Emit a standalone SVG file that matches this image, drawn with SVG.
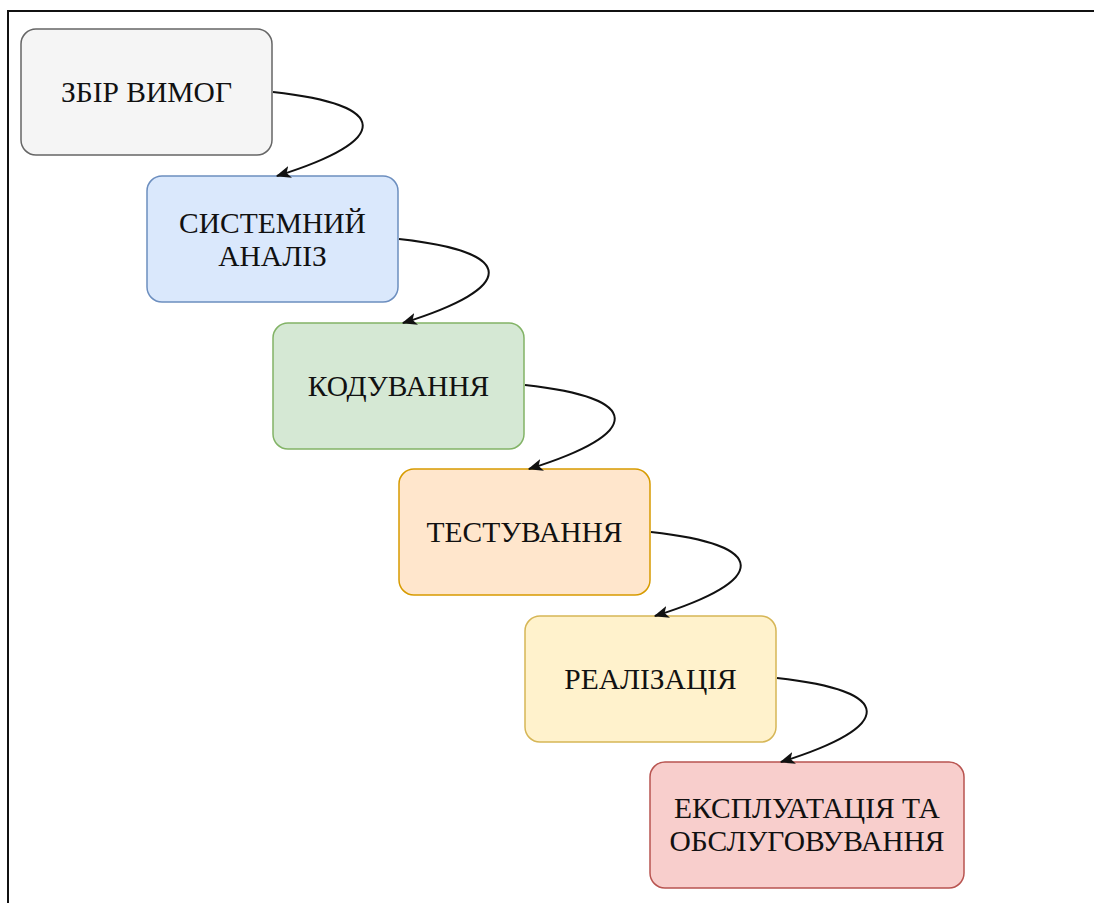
<svg xmlns="http://www.w3.org/2000/svg" width="1094" height="903" viewBox="0 0 1094 903">
<style>
.n rect{stroke-width:1.5}
.n text{font-family:"Liberation Serif","Times New Roman",serif;font-size:29.5px;fill:#111;text-anchor:middle}
.e path{fill:none;stroke:#111;stroke-width:2}
</style>
<defs>
<marker id="a" viewBox="0 0 12 12" refX="11" refY="6" markerWidth="15" markerHeight="15" markerUnits="userSpaceOnUse" orient="auto">
<path d="M0,1 L12,6 L0,11 L3,6 z" fill="#111"/>
</marker>
</defs>
<rect x="0" y="0" width="1094" height="903" fill="#fff"/>
<path d="M8,903 V11 H1094" fill="none" stroke="#111" stroke-width="2"/>
<g id="n1" class="n"><rect x="21" y="29" width="251" height="126" rx="15" fill="#f5f5f5" stroke="#666"/><text x="146.5" y="102">ЗБІР ВИМОГ</text></g>
<g id="n2" class="n"><rect x="147" y="176" width="251" height="126" rx="15" fill="#dae8fc" stroke="#6c8ebf"/><text x="272.5" y="233">СИСТЕМНИЙ</text><text x="272.5" y="266">АНАЛІЗ</text></g>
<g id="n3" class="n"><rect x="273" y="323" width="251" height="126" rx="15" fill="#d5e8d4" stroke="#82b366"/><text x="398.5" y="396">КОДУВАННЯ</text></g>
<g id="n4" class="n"><rect x="399" y="469" width="251" height="126" rx="15" fill="#ffe6cc" stroke="#d79b00"/><text x="524.5" y="542">ТЕСТУВАННЯ</text></g>
<g id="n5" class="n"><rect x="525" y="616" width="251" height="126" rx="15" fill="#fff2cc" stroke="#d6b656"/><text x="650.5" y="689">РЕАЛІЗАЦІЯ</text></g>
<g id="n6" class="n"><rect x="650" y="762" width="314" height="126" rx="15" fill="#f8cecc" stroke="#b85450"/><text x="807" y="818">ЕКСПЛУАТАЦІЯ ТА</text><text x="807" y="851">ОБСЛУГОВУВАННЯ</text></g>
<g id="edges" class="e">
<path d="M273,92 C392,105 392,140 277,176" marker-end="url(#a)"/>
<path d="M399,239 C518,252 518,287 403,323" marker-end="url(#a)"/>
<path d="M525,385 C644,398 644,433 529,469" marker-end="url(#a)"/>
<path d="M651,532 C770,545 770,580 655,616" marker-end="url(#a)"/>
<path d="M777,678 C896,691 896,726 781,762" marker-end="url(#a)"/>
</g>
</svg>
